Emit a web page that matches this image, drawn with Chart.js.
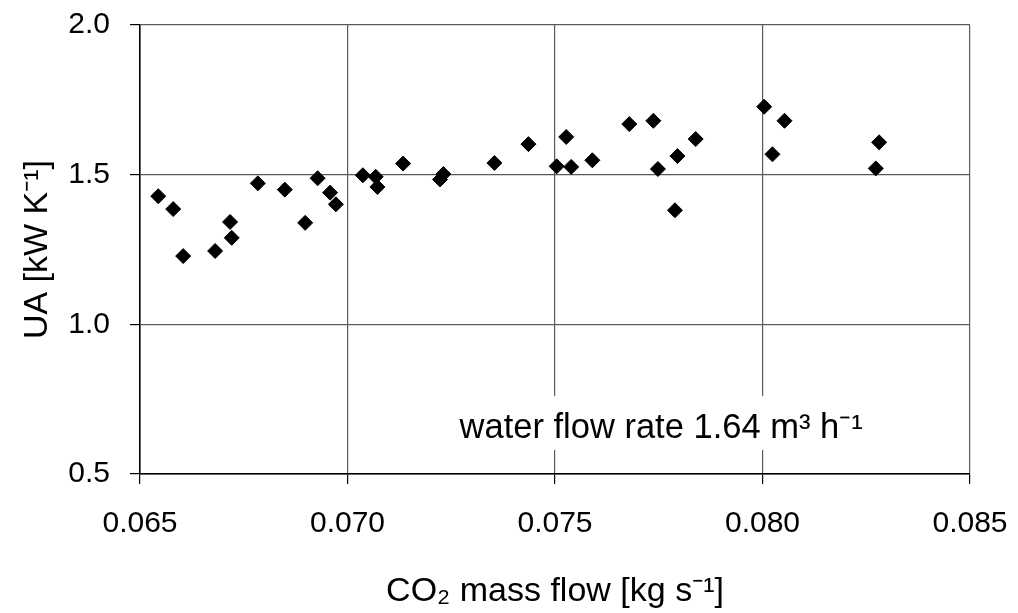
<!DOCTYPE html>
<html>
<head>
<meta charset="utf-8">
<script src="https://cdn.jsdelivr.net/npm/chart.js@4/dist/chart.umd.min.js"></script>
<style>
  body { margin: 0; background: #fff; }
  #wrap { width: 1018px; height: 613px; }
</style>
</head>
<body>
<div id="wrap"><canvas id="myChart" width="1018" height="613"></canvas></div>
<script>
// CO2 mass flow [kg/s] vs UA [kW/K]
const massFlow = [
  0.06544, 0.06580, 0.06604, 0.06681, 0.06717, 0.06721, 0.06784, 0.06849,
  0.06928, 0.06898, 0.06958, 0.06972, 0.07037, 0.07068, 0.07072, 0.07134,
  0.07223, 0.07231, 0.07354, 0.07436, 0.07504, 0.07527, 0.07539, 0.07590,
  0.07679, 0.07737, 0.07748, 0.07795, 0.07839, 0.07789, 0.08004, 0.08053,
  0.08024, 0.08273, 0.08281
];
const uaValues = [
  1.428, 1.385, 1.228, 1.245, 1.342, 1.289, 1.471, 1.450,
  1.488, 1.339, 1.440, 1.401, 1.498, 1.493, 1.459, 1.537,
  1.484, 1.502, 1.539, 1.602, 1.528, 1.626, 1.526, 1.548,
  1.669, 1.680, 1.519, 1.562, 1.619, 1.381, 1.727, 1.680,
  1.568, 1.521, 1.608
];
const xTicks = [0.065, 0.070, 0.075, 0.080, 0.085];
const yTicks = [0.5, 1.0, 1.5, 2.0];

const xTitle = "CO\u2082 mass flow [kg s\u207B\u00B9]";
const yTitle = "UA [kW K\u207B\u00B9]";
const noteText = "water flow rate 1.64 m\u00B3 h\u207B\u00B9";

let puntos = [];
for (let i = 0; i < massFlow.length; i++) {
  puntos.push({ x: massFlow[i], y: uaValues[i] });
}

const fuente = "'Liberation Sans', Arial, sans-serif";

// text box inside the plot, drawn over the grid but under the points
const notaPlugin = {
  id: "nota",
  beforeDatasetsDraw(chart) {
    const ctx = chart.ctx;
    const px = chart.scales.x.getPixelForValue(0.0727);
    const py = chart.scales.y.getPixelForValue(0.62);
    ctx.save();
    ctx.font = "34.5px " + fuente;
    const w = ctx.measureText(noteText).width;
    ctx.fillStyle = "#fff";
    ctx.fillRect(px - 8, py - 42, w + 16, 54);
    ctx.fillStyle = "#000";
    ctx.textAlign = "left";
    ctx.textBaseline = "alphabetic";
    ctx.fillText(noteText, px, py);
    ctx.restore();
  }
};

// fixed axis sizes, and no extra label overhang padding
function fijar(s, size) {
  if (s.isHorizontal()) s.height = size; else s.width = size;
  s.paddingTop = 0; s.paddingBottom = 0; s.paddingLeft = 0; s.paddingRight = 0;
}

const gridColor = "#5a5a5a";

new Chart(document.getElementById("myChart"), {
  type: "scatter",
  data: {
    datasets: [{
      data: puntos,
      pointStyle: "rectRot",
      pointRadius: 7.5,
      pointHoverRadius: 7.5,
      backgroundColor: "#000",
      borderColor: "#000",
      borderWidth: 1
    }]
  },
  plugins: [notaPlugin],
  options: {
    responsive: false,
    devicePixelRatio: 1,
    animation: false,
    events: [],
    layout: { padding: { top: 25, right: 48, left: 0, bottom: 0 } },
    plugins: { legend: { display: false }, tooltip: { enabled: false } },
    scales: {
      x: {
        type: "linear",
        min: 0.065,
        max: 0.085,
        afterBuildTicks: function (s) { s.ticks = xTicks.map(v => ({ value: v })); },
        afterFit: function (s) { fijar(s, 139); },
        ticks: {
          color: "#000",
          font: { family: fuente, size: 30 },
          padding: 22,
          maxRotation: 0,
          callback: v => v.toFixed(3)
        },
        grid: {
          color: c => (c.tick && c.tick.value === 0.065 ? "#000" : gridColor),
          lineWidth: 1.2,
          tickColor: "#000",
          tickLength: 10
        },
        border: { color: "#000", width: 1.5 },
        title: {
          display: true,
          text: xTitle,
          color: "#000",
          font: { family: fuente, size: 34 },
          padding: { top: 0, bottom: 1 }
        }
      },
      y: {
        type: "linear",
        min: 0.5,
        max: 2.0,
        afterBuildTicks: function (s) { s.ticks = yTicks.map(v => ({ value: v })); },
        afterFit: function (s) { fijar(s, 140); },
        ticks: {
          color: "#000",
          font: { family: fuente, size: 30 },
          padding: 20,
          callback: v => v.toFixed(1)
        },
        grid: {
          color: c => (c.tick && c.tick.value === 0.5 ? "#000" : gridColor),
          lineWidth: 1.2,
          tickColor: "#000",
          tickLength: 10
        },
        border: { color: "#000", width: 1.5 },
        title: {
          display: true,
          text: yTitle,
          color: "#000",
          font: { family: fuente, size: 34 },
          padding: { top: 17, bottom: 0 }
        }
      }
    }
  }
});
</script>
</body>
</html>
